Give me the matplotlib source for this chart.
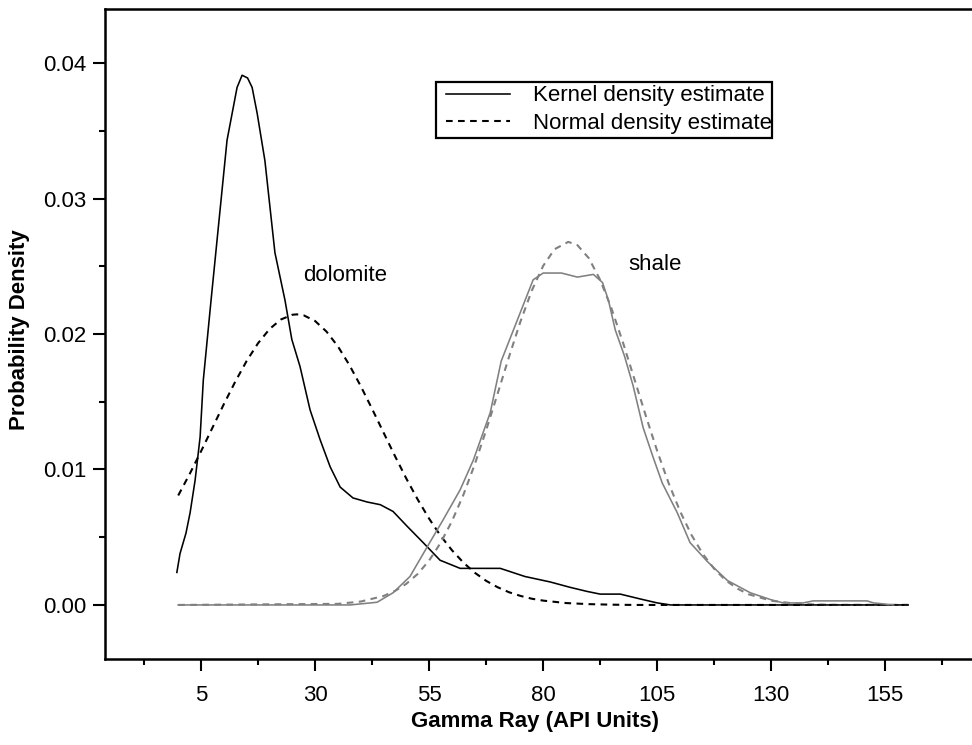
import matplotlib
matplotlib.use("Agg")
import matplotlib.pyplot as plt
from matplotlib.lines import Line2D
from matplotlib.patches import Rectangle
from matplotlib.ticker import FixedLocator, FormatStrFormatter

plt.rcParams['font.family'] = ['Liberation Sans', 'DejaVu Sans']

# ---------------- data ----------------
dolo_kde_x = [-0.3, 0.4, 1.7, 2.6, 3.7, 4.8, 5.5, 7.2, 8.8, 10.7, 12.9, 14.0, 15.2, 16.2,
              17.3, 19.0, 21.2, 23.4, 24.9, 26.7, 28.9, 31.1, 33.3, 35.5, 38.3, 41.4,
              44.3, 47.1, 50.2, 53.7, 57.4, 61.8, 70.6, 76.0, 81.5, 85.9, 89.6, 92.5,
              96.9, 101.3, 105.0, 107.9, 160.0]
dolo_kde_y = [0.0024, 0.0038, 0.0053, 0.0068, 0.0092, 0.0124, 0.0166, 0.0225, 0.0279,
              0.0343, 0.0382, 0.0391, 0.0389, 0.0382, 0.0363, 0.0328, 0.0260, 0.0225,
              0.0196, 0.0176, 0.0144, 0.0122, 0.0102, 0.0087, 0.0079, 0.0076, 0.0074,
              0.0069, 0.0058, 0.0046, 0.0033, 0.0027, 0.0027, 0.0021, 0.0017, 0.0013,
              0.0010, 0.0008, 0.0008, 0.00044, 0.00015, 0.0, 0.0]

dolo_norm_x = [0, 2.5, 5, 7.5, 10, 12.5, 15, 17.5, 20, 22.5, 25, 26, 27.5, 30, 32.5, 35,
               37.5, 40, 42.5, 45, 47.5, 50, 52.5, 55, 57.5, 60, 62.5, 65, 67.5, 70, 72.5,
               75, 77.5, 80, 85, 90, 95, 100, 160]
dolo_norm_y = [0.00808, 0.00966, 0.01134, 0.01308, 0.01482, 0.01648, 0.01801, 0.01932,
               0.02036, 0.02107, 0.02142, 0.02145, 0.02138, 0.02096, 0.02018, 0.01909,
               0.01772, 0.01616, 0.01447, 0.01273, 0.01100, 0.00933, 0.00778, 0.00637,
               0.00511, 0.00404, 0.00313, 0.00238, 0.00178, 0.00131, 0.00094, 0.00067,
               0.00046, 0.00032, 0.00014, 0.00006, 0.00002, 0.0, 0.0]

shale_kde_x = [0.0, 37.7, 43.6, 47.1, 50.8, 54.6, 58.1, 61.8, 64.7, 68.4, 70.8, 74.3,
               77.8, 80.0, 84.0, 87.5, 91.0, 93.0, 94.3, 95.8, 97.8, 99.7, 101.9, 104.1,
               106.1, 109.4, 112.2, 116.0, 120.4, 125.4, 129.8, 132.6, 137.0, 139.2,
               151.0, 152.4, 156.8]
shale_kde_y = [0.0, 0.0, 0.0002, 0.0009, 0.0021, 0.0043, 0.0063, 0.0085, 0.0107, 0.0142,
               0.0180, 0.0210, 0.0240, 0.0245, 0.0245, 0.0242, 0.0244, 0.0238, 0.0225,
               0.0203, 0.0184, 0.0162, 0.0131, 0.0109, 0.0090, 0.0068, 0.0046, 0.0032,
               0.0018, 0.0009, 0.0004, 0.00015, 0.00015, 0.0003, 0.0003, 0.00015, 0.0]

shale_norm_x = [0, 35, 40, 45, 47.5, 50, 52.5, 55, 57.5, 60, 62.5, 65, 67.5, 70, 72.5, 75,
                77.5, 80, 82.5, 85.5, 87.5, 90, 92.5, 95, 97.5, 100, 102.5, 105, 107.5,
                110, 112.5, 115, 117.5, 120, 122.5, 125, 130, 135, 140, 145, 160]
shale_norm_y = [0.0, 0.00008, 0.00025, 0.00066, 0.00103, 0.00156, 0.00229, 0.00328,
                0.00457, 0.00618, 0.00812, 0.01038, 0.01290, 0.01558, 0.01830, 0.02090,
                0.02320, 0.02503, 0.02626, 0.02680, 0.02656, 0.02560, 0.02399, 0.02186,
                0.01936, 0.01667, 0.01396, 0.01136, 0.00899, 0.00692, 0.00517, 0.00376,
                0.00266, 0.00182, 0.00122, 0.00079, 0.00031, 0.00011, 0.00003, 0.0, 0.0]

x_ticks = [5, 30, 55, 80, 105, 130, 155]
y_ticks = [0.00, 0.01, 0.02, 0.03, 0.04]
legend_labels = ["Kernel density estimate", "Normal density estimate"]
annotations = [("dolomite", 27.4, 0.0243), ("shale", 98.6, 0.0251)]

# ---------------- figure ----------------
W, H = 972, 745
fig = plt.figure(figsize=(W / 100, H / 100), dpi=100)
ax = fig.add_axes([105 / W, 1 - 659 / H, 1 - 105 / W, (659 - 9) / H])

GRAY = '#808080'
LW = 1.15
DASH = (3.2, 2.6)

ax.plot(dolo_norm_x, dolo_norm_y, color='black', lw=LW * 1.3, dashes=DASH)
ax.plot(shale_norm_x, shale_norm_y, color=GRAY, lw=LW * 1.3, dashes=DASH)
ax.plot(dolo_kde_x, dolo_kde_y, color='black', lw=LW)
ax.plot(shale_kde_x, shale_kde_y, color=GRAY, lw=LW)

ax.set_xlim(-16.05, 174.0)
ax.set_ylim(-0.00399, 0.04399)

ax.xaxis.set_major_locator(FixedLocator(x_ticks))
ax.xaxis.set_minor_locator(FixedLocator([-7.5 + 25 * i for i in range(8)]))
ax.yaxis.set_major_locator(FixedLocator(y_ticks))
ax.yaxis.set_minor_locator(FixedLocator([0.005, 0.015, 0.025, 0.035]))
ax.yaxis.set_major_formatter(FormatStrFormatter('%.2f'))

FS = 16
ax.tick_params(axis='both', which='major', direction='out', length=8.5, width=1.5,
               labelsize=FS, color='black')
ax.tick_params(axis='both', which='minor', direction='out', length=4.5, width=1.5)
ax.tick_params(axis='x', which='major', pad=10.5)
ax.tick_params(axis='y', which='major', pad=5)

for side in ['left', 'top', 'bottom']:
    ax.spines[side].set_linewidth(1.8)
ax.spines['right'].set_visible(False)

fig.text(535 / W, 1 - 721 / H, "Gamma Ray (API Units)", ha='center', va='center',
         fontsize=FS, fontweight='bold')
fig.text(20 / W, 1 - 330 / H, "Probability Density", ha='center', va='center',
         rotation=90, fontsize=FS, fontweight='bold')

for txt, xx, yy in annotations:
    ax.text(xx, yy, txt, ha='left', va='center', fontsize=FS)

# legend box drawn in figure pixel coordinates
def fx(px):
    return px / W

def fy(py):
    return 1 - py / H

fig.patches.append(Rectangle((fx(436), fy(138)), fx(772) - fx(436), fy(82) - fy(138),
                             transform=fig.transFigure, fill=True, facecolor='white',
                             edgecolor='black', lw=1.6, zorder=5))
row_y = [94, 121]
styles = [dict(color='black', lw=LW), dict(color='black', lw=LW * 1.3, dashes=DASH)]
for lab, ry, st in zip(legend_labels, row_y, styles):
    fig.add_artist(Line2D([fx(446), fx(510)], [fy(ry), fy(ry)],
                          transform=fig.transFigure, zorder=6, **st))
    fig.text(fx(533), fy(ry + 2), lab, ha='left', va='center', fontsize=FS, zorder=6)

fig.savefig("out.png", dpi=100)
